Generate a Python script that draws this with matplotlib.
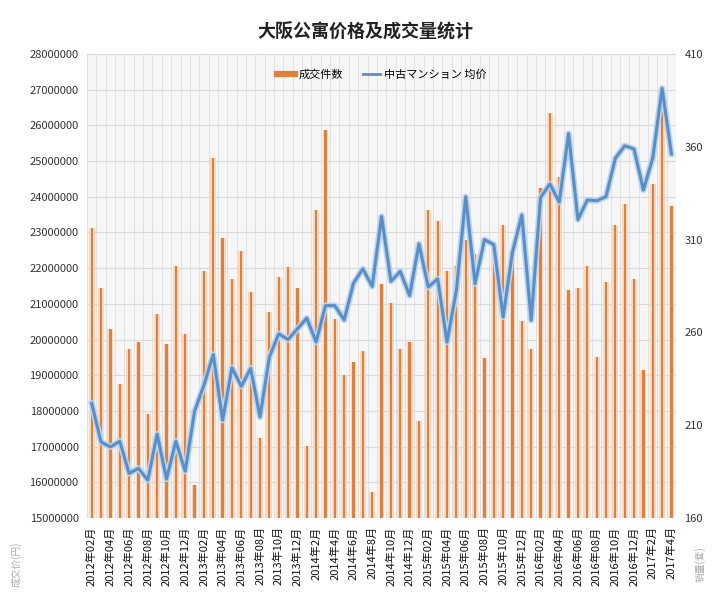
import matplotlib
matplotlib.use("Agg")
import matplotlib.pyplot as plt
from matplotlib.lines import Line2D
import numpy as np

plt.rcParams['font.family'] = ['Noto Sans CJK SC', 'DejaVu Sans']
plt.rcParams['hatch.color'] = '#e4e4e4'
plt.rcParams['hatch.linewidth'] = 0.6

# ---- data ----
volume = [316, 284, 262, 232, 251, 255, 216, 270, 254, 296, 259, 178, 293, 354,
          311, 289, 304, 282, 203, 271, 290, 295, 284, 199, 326, 369, 267, 237,
          244, 250, 174, 286, 276, 251, 255, 212, 326, 320, 293, 296, 310, 302,
          246, 305, 318, 299, 266, 251, 338, 378, 344, 283, 284, 296, 247, 287,
          318, 329, 289, 240, 340, 383, 328]
price_m = [18.21, 17.13, 16.99, 17.15, 16.25, 16.39, 16.06, 17.35, 16.09, 17.15,
           16.31, 17.99, 18.72, 19.58, 17.74, 19.21, 18.69, 19.19, 17.83, 19.51,
           20.16, 20.00, 20.30, 20.60, 19.93, 20.95, 20.95, 20.55, 21.58, 21.98,
           21.49, 23.45, 21.63, 21.91, 21.23, 22.68, 21.47, 21.70, 19.93, 21.37,
           24.00, 21.57, 22.80, 22.66, 20.63, 22.45, 23.49, 20.54, 23.98, 24.36,
           23.85, 25.77, 23.36, 23.91, 23.89, 24.00, 25.08, 25.43, 25.34, 24.19,
           25.08, 27.04, 25.20]
price = [p * 1e6 for p in price_m]
tick_labels = ['2012年02月', '2012年04月', '2012年06月', '2012年08月', '2012年10月', '2012年12月',
               '2013年02月', '2013年04月', '2013年06月', '2013年08月', '2013年10月', '2013年12月',
               '2014年2月', '2014年4月', '2014年6月', '2014年8月', '2014年10月', '2014年12月',
               '2015年02月', '2015年04月', '2015年06月', '2015年08月', '2015年10月', '2015年12月',
               '2016年02月', '2016年04月', '2016年06月', '2016年08月', '2016年10月', '2016年12月',
               '2017年2月', '2017年4月']
price_ticks = list(range(15000000, 28000001, 1000000))
volume_ticks = [160, 210, 260, 310, 360, 410]

n = len(volume)
x = np.arange(n)

fig = plt.figure(figsize=(7.27, 6.03), dpi=100)
ax = fig.add_axes([0.1197, 0.141, 0.8103, 0.7694])  # bars (volume), ticks on right
ax2 = ax.twinx()  # line (price), ticks on left

ax.set_facecolor('#f6f6f6')
ax.patch.set_hatch('//////')
ax.set_xlim(-0.5, n - 0.5)
ax.set_ylim(160, 410)
ax2.set_ylim(15000000, 28000000)

# grid: vertical per month, horizontal per price tick
for b in np.arange(-0.5, n, 1):
    ax.axvline(b, color='#dedede', lw=0.6, zorder=0.5)
def p2v(p):
    return 160 + (p - 15000000) / 13000000 * 250
for p in price_ticks:
    ax.axhline(p2v(p), color='#d9d9d9', lw=0.8, zorder=0.5)

ax.bar(x, [v - 160 for v in volume], bottom=160, width=0.62, color='#fad8c0', zorder=2)
ax.bar(x, [v - 160 for v in volume], bottom=160, width=0.24, color='#e0803e', zorder=3)

ax2.plot(x, price, color='#bcd5ee', lw=4.5, zorder=4, solid_joinstyle='round')
ax2.plot(x, price, color='#5a8ec6', lw=2.2, zorder=5, solid_joinstyle='round')

ax.yaxis.tick_right()
ax2.yaxis.tick_left()
ax.set_yticks(volume_ticks)
ax.set_yticklabels([str(v) for v in volume_ticks], fontsize=8, color='#333333')
ax2.set_yticks(price_ticks)
ax2.set_yticklabels([str(p) for p in price_ticks], fontsize=8, color='#333333')
ax.set_xticks(x[::2])
ax.set_xticklabels(tick_labels, rotation=90, fontsize=8, color='#111111')
for a in (ax, ax2):
    a.tick_params(length=0, pad=6)
    for s in a.spines.values():
        s.set_visible(False)

fig.text(0.502, 0.947, '大阪公寓价格及成交量统计', ha='center', va='center',
         fontsize=13, fontweight='bold', color='#222222')

handles = [Line2D([0], [0], color='#e0803e', lw=4.5),
           Line2D([0], [0], color='#5a8ec6', lw=2)]
fig.legend(handles, ['成交件数', '中古マンション 均价'], loc='center',
           bbox_to_anchor=(0.525, 0.876), ncol=2, frameon=False, fontsize=8,
           handlelength=1.6, columnspacing=1.8, handletextpad=0.3)

fig.text(0.022, 0.065, '成交价(円)', rotation=90, ha='center', va='center',
         fontsize=7, color='#aaaaaa')
fig.text(0.963, 0.065, '销量(套)', rotation=90, ha='center', va='center',
         fontsize=7, color='#aaaaaa')

fig.savefig('out.png', dpi=100)
